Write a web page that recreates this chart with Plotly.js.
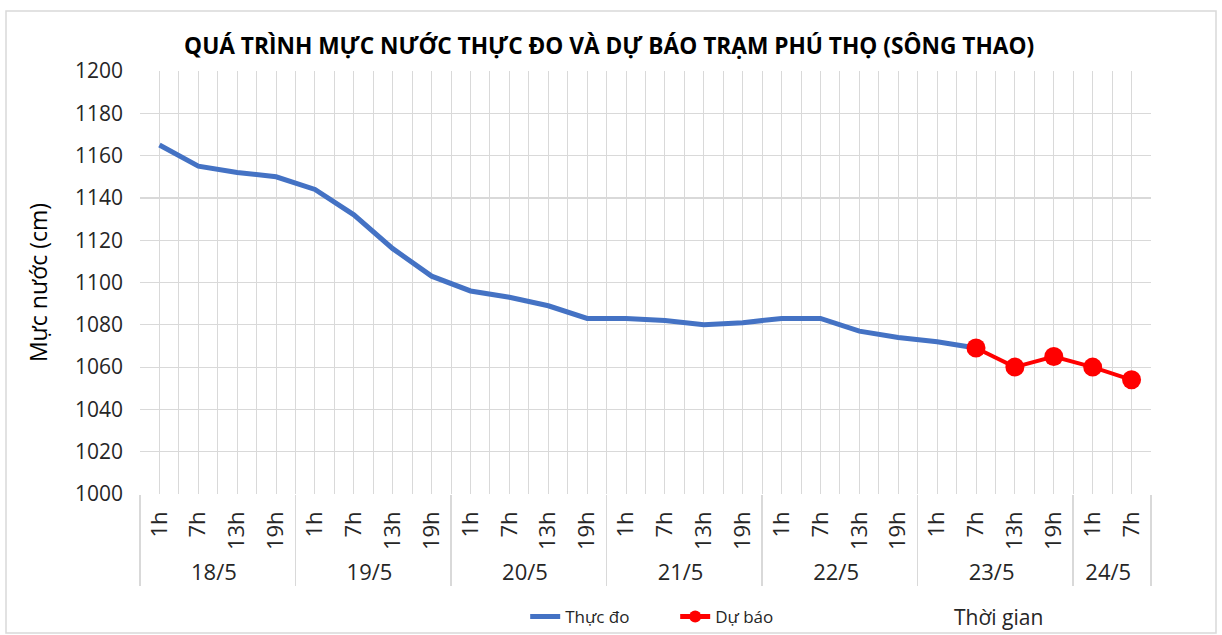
<!DOCTYPE html>
<html><head><meta charset="utf-8">
<script src="https://cdn.plot.ly/plotly-3.0.1.min.js"></script>
<style>body{margin:0;background:#fff}#c{width:1222px;height:635px}</style>
</head><body><div id="c"></div>
<script>
const days = ["18/5","18/5","18/5","18/5","19/5","19/5","19/5","19/5","20/5","20/5","20/5","20/5","21/5","21/5","21/5","21/5","22/5","22/5","22/5","22/5","23/5","23/5","23/5","23/5","24/5","24/5"];
const hours = ["1h","7h","13h","19h","1h","7h","13h","19h","1h","7h","13h","19h","1h","7h","13h","19h","1h","7h","13h","19h","1h","7h","13h","19h","1h","7h"];
const observed = [1165,1155,1152,1150,1144,1132,1116,1103,1096,1093,1089,1083,1083,1082,1080,1081,1083,1083,1077,1074,1072,1069];
const forecast = [1069,1060,1065,1060,1054];
const forecastStart = 21;

const obsX = [days.slice(0, observed.length), hours.slice(0, observed.length)];
const fcX = [days.slice(forecastStart, forecastStart + forecast.length), hours.slice(forecastStart, forecastStart + forecast.length)];

const font = "Open Sans, Noto Sans, sans-serif";
const traces = [
  {x: obsX, y: observed, type: "scatter", mode: "lines", name: "Thực đo",
   line: {color: "#4472C4", width: 5}},
  {x: fcX, y: forecast, type: "scatter", mode: "lines+markers", name: "Dự báo",
   line: {color: "#FF0000", width: 4}, marker: {color: "#FF0000", size: 19}},
  {x: [], y: [], xaxis: "x2", showlegend: false, hoverinfo: "skip"}
];
const W = 1011, H = 423;
const layout = {
  width: 1222, height: 635,
  margin: {l: 140, r: 71, t: 71, b: 141},
  paper_bgcolor: "#fff", plot_bgcolor: "#fff",
  font: {family: font, color: "#262626"},
  title: {text: "<b>QUÁ TRÌNH MỰC NƯỚC THỰC ĐO VÀ DỰ BÁO TRẠM PHÚ THỌ (SÔNG THAO)</b>",
          font: {size: 22.7, color: "#000", family: font}, x: 0.4985, xanchor: "center", y: 0.928, yanchor: "middle"},
  xaxis: {type: "multicategory", showgrid: false, showline: false, ticks: "",
          tickangle: -90, tickfont: {size: 22, color: "#262626"}, automargin: false,
          ticklabelstandoff: 12,
          showdividers: true, dividercolor: "#d9d9d9", dividerwidth: 1.5,
          range: [-0.5, 25.5], zeroline: false},
  xaxis2: {overlaying: "x", anchor: "y", type: "linear", range: [-0.5, 25.5],
           tick0: -0.5, dtick: 0.5, showgrid: true, gridcolor: "#d9d9d9", gridwidth: 1,
           showticklabels: false, ticks: "", zeroline: false, showline: false},
  yaxis: {range: [1000, 1200], dtick: 20, gridcolor: "#d9d9d9", gridwidth: 1.2,
          zeroline: false, showline: false, ticks: "", ticklabelstandoff: 16, automargin: false,
          tickfont: {size: 21, color: "#262626"},
          title: {text: "Mực nước (cm)", font: {size: 23, color: "#000"}, standoff: 20}},
  showlegend: true,
  legend: {orientation: "h", x: 0.381, xanchor: "left", yref: "container", y: (635 - 617) / 635, yanchor: "middle",
           font: {size: 17, color: "#262626"}, itemwidth: 30, entrywidth: 105, itemsizing: "constant",
           bgcolor: "rgba(0,0,0,0)"},
  annotations: [{text: "Thời gian", xref: "paper", yref: "paper", x: (998 - 140) / W, y: (494 - 617) / H,
                 xanchor: "center", yanchor: "middle", showarrow: false, font: {size: 21, color: "#262626"}}],
  shapes: [{type: "rect", xref: "paper", yref: "paper", x0: (6 - 140) / W, x1: (1216 - 140) / W,
            y0: (494 - 633) / H, y1: (494 - 11) / H, line: {color: "#d9d9d9", width: 1.5}, layer: "below"}]
};
Plotly.newPlot("c", traces, layout, {displayModeBar: false, staticPlot: true});
</script></body></html>
